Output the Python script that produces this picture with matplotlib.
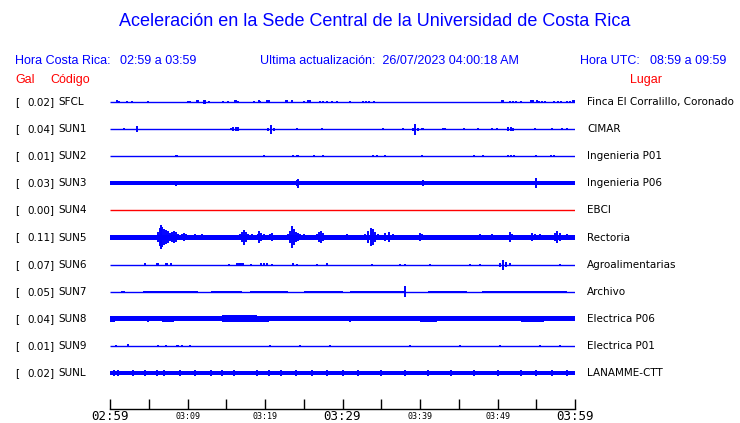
import matplotlib
matplotlib.use('Agg')
import matplotlib.pyplot as plt

# station info
gal = ['0.02', '0.04', '0.01', '0.03', '0.00', '0.11', '0.07', '0.05', '0.04', '0.01', '0.02']
codes = ['SFCL', 'SUN1', 'SUN2', 'SUN3', 'SUN4', 'SUN5', 'SUN6', 'SUN7', 'SUN8', 'SUN9', 'SUNL']
places = ['Finca El Corralillo, Coronado', 'CIMAR', 'Ingenieria P01', 'Ingenieria P06', 'EBCI',
          'Rectoria', 'Agroalimentarias', 'Archivo', 'Electrica P06', 'Electrica P01', 'LANAMME-CTT']

# half thickness of the trace background noise (px)
base = [0, 0, 0, 2.0, 0, 2.3, 0, 0, 2.3, 0, 2.1]

# time labels (minutes after 02:59)
tick_minutes = [0, 5, 10, 15, 20, 25, 30, 35, 40, 45, 50, 55, 60]
big_labels = {0: '02:59', 30: '03:29', 60: '03:59'}
small_labels = {10: '03:09', 20: '03:19', 40: '03:39', 50: '03:49'}

# noise bands (start min, end min, half amplitude px)
bands_sun7 = [(4.3, 11.3, 0.9), (13.0, 17.0, 0.8), (18.0, 23.0, 0.8), (25.0, 30.0, 0.8),
              (31.0, 38.0, 0.8), (41.0, 46.0, 0.8), (48.0, 59.0, 0.8)]
bands_sun8 = [(0.0, 0.7, 3.0), (6.7, 8.2, 2.8), (14.5, 19.0, 3.3), (19.0, 20.5, 2.9),
              (40.0, 42.0, 2.7), (53.0, 56.0, 2.7)]

# spikes (minute, half amplitude px)
spikes_sfcl = [(0.86, 1.5), (1.16, 1.2), (2.15, 1.2), (2.8, 0.8), (4.94, 0.8), (10.03, 0.8),
               (10.32, 1.2), (11.19, 1.5), (11.35, 1.5), (12.1, 2.0), (12.25, 2.2), (12.77, 1.3),
               (14.54, 1.0), (15.19, 0.8), (16.13, 1.5), (16.3, 1.5), (16.55, 1.3), (18.62, 0.8),
               (19.23, 1.5), (19.4, 1.3), (20.3, 1.5), (20.5, 1.5), (22.7, 1.5), (22.9, 1.5),
               (23.45, 1.5), (25.07, 1.3), (25.6, 1.5), (25.8, 1.5), (27.1, 1.2), (27.52, 1.3),
               (27.96, 1.2), (28.6, 1.2), (29.25, 1.2), (30.97, 0.8), (32.6, 1.0), (33.03, 1.2),
               (33.46, 1.2), (34.1, 0.8), (50.6, 1.5), (50.75, 1.5), (51.6, 1.2), (52.04, 1.0),
               (52.35, 1.2), (53.0, 1.2), (54.3, 1.5), (54.45, 1.5), (54.6, 1.5), (55.06, 1.5),
               (55.4, 1.3), (55.7, 1.2), (56.13, 1.2), (57.33, 1.0), (57.85, 1.2), (58.19, 1.2),
               (58.93, 1.2), (59.35, 1.2), (59.7, 1.5), (59.85, 1.5)]
spikes_sun1 = [(1.85, 0.7), (3.52, 2.7), (15.61, 1.0), (15.9, 2.0), (16.2, 2.0), (16.5, 2.0),
               (20.43, 1.5), (20.8, 4.5), (21.2, 1.5), (24.09, 1.3), (27.31, 1.3), (35.27, 0.7),
               (37.85, 0.7), (39.05, 1.5), (39.4, 5.5), (39.75, 1.5), (40.2, 1.2), (40.34, 1.2),
               (43.0, 0.7), (43.23, 0.7), (45.72, 1.0), (47.52, 0.8), (49.32, 0.7), (49.97, 0.7),
               (51.4, 1.7), (51.75, 2.0), (52.05, 1.5), (54.84, 0.8), (57.07, 0.8), (58.28, 0.8),
               (58.93, 0.8)]
spikes_sun2 = [(8.47, 0.8), (8.6, 1.0), (19.91, 0.8), (23.65, 0.8), (24.1, 1.2), (24.3, 1.2),
               (26.32, 1.2), (27.52, 0.8), (33.9, 0.8), (34.5, 0.8), (35.48, 0.8), (40.22, 0.8),
               (46.97, 0.8), (48.08, 0.8), (51.4, 1.0), (51.7, 1.0), (52.17, 0.8), (54.93, 0.8),
               (56.86, 0.8), (57.33, 0.8)]
spikes_sun3 = [(8.52, 2.5), (23.6, 1.8), (24.1, 3.0), (24.3, 4.5), (24.6, 2.0), (34.19, 2.2),
               (37.2, 1.8), (40.43, 2.8), (48.08, 2.0), (50.1, 1.8), (54.93, 5.0), (58.19, 2.0)]
spikes_sun4 = []
spikes_sun5 = [(0.86, 2.5), (1.07, 2.5), (5.55, 1.5), (6.19, 5), (6.39, 9), (6.58, 12), (6.77, 10),
               (6.97, 8), (7.23, 7), (7.48, 6), (7.74, 4), (8.0, 5), (8.26, 6), (8.52, 5), (8.77, 3),
               (9.29, 3), (9.55, 4), (9.81, 3), (10.97, 3), (11.83, 3), (15.91, 2), (16.77, 3),
               (17.03, 5), (17.33, 7.5), (17.55, 5), (17.81, 3), (18.32, 3), (18.71, 2.5), (19.14, 3),
               (19.27, 6), (19.48, 4), (19.87, 3), (20.65, 3), (20.9, 4), (21.61, 2.5), (22.36, 2.5),
               (23.0, 3), (23.29, 6), (23.52, 11), (23.74, 8), (24.0, 5), (24.26, 4), (24.52, 3),
               (25.03, 3), (26.71, 3), (26.97, 5), (27.23, 6), (27.48, 4), (28.13, 2), (30.54, 3),
               (32.9, 3), (33.29, 6), (33.68, 9), (33.94, 8), (34.19, 5), (34.58, 3), (35.48, 4),
               (36.0, 5), (36.52, 3), (40.0, 4), (40.26, 3), (43.23, 2), (47.74, 3), (49.29, 3),
               (51.61, 5), (51.87, 3), (54.45, 4), (54.84, 3), (55.48, 3), (57.42, 4), (57.68, 6),
               (58.06, 4), (58.97, 3), (59.61, 2)]
spikes_sun6 = [(4.52, 1.3), (6.05, 1.3), (6.2, 1.3), (7.2, 1.3), (7.33, 1.3), (7.83, 1.3),
               (15.39, 1.0), (16.39, 1.3), (16.6, 1.3), (16.77, 1.3), (16.95, 1.3), (17.16, 1.3),
               (18.15, 1.0), (19.48, 1.3), (19.81, 1.3), (20.32, 1.3), (20.86, 1.0), (23.65, 1.3),
               (24.17, 1.0), (26.75, 1.0), (27.96, 1.3), (33.81, 1.0), (37.42, 1.0), (38.06, 1.0),
               (41.29, 1.0), (46.45, 1.0), (47.74, 1.0), (50.32, 2.0), (50.71, 5.0), (51.1, 2.5),
               (51.61, 1.5), (58.06, 1.0)]
spikes_sun7 = [(1.6, 1.0), (1.75, 1.0), (38.06, 5.5)]
spikes_sun8 = [(4.85, 3.0), (31.0, 3.0), (40.5, 3.2), (42.1, 3.0)]
spikes_sun9 = [(0.77, 1.2), (2.37, 1.5), (6.23, 1.2), (7.23, 1.2), (8.6, 1.2), (8.8, 1.2),
               (9.25, 1.2), (10.32, 1.0), (20.65, 1.0), (24.5, 1.0), (28.4, 1.0), (38.7, 1.0),
               (45.16, 1.0), (50.32, 1.0), (55.48, 1.0), (58.06, 1.0)]
spikes_sunl = [(0.5, 3), (1.0, 3), (3.0, 3), (4.5, 2.8), (6.0, 3), (7.0, 2.8), (9.0, 3), (11.0, 2.8),
               (13.0, 3), (14.5, 2.8), (16.0, 3), (19.0, 3), (20.5, 2.8), (22.0, 3), (24.0, 3),
               (26.0, 2.8), (28.0, 3), (30.0, 2.8), (32.0, 3), (35.0, 2.8), (38.0, 3), (41.0, 2.8),
               (44.0, 3), (47.0, 2.8), (50.0, 3), (53.0, 3), (55.0, 2.8), (57.0, 3), (59.0, 2.8)]

spikes = [spikes_sfcl, spikes_sun1, spikes_sun2, spikes_sun3, spikes_sun4, spikes_sun5,
          spikes_sun6, spikes_sun7, spikes_sun8, spikes_sun9, spikes_sunl]
bands = {7: bands_sun7, 8: bands_sun8}

blue = '#0000ff'
red = '#ff0000'
W, H = 740, 423
px = 1 / 27.1  # trace spacing is 27.1 px

fig = plt.figure(figsize=(7.4, 4.23), dpi=100)
ax = fig.add_axes([110 / W, 1 - 409 / H, 465 / W, 319 / H])

for i in range(len(codes)):
    y = -i
    color = red if codes[i] == 'SUN4' else blue
    ax.plot([0, 60], [y, y], color=color, lw=1.0, solid_capstyle='butt')
    if base[i] > 0:
        ax.fill_between([0, 60], y - base[i] * px, y + base[i] * px, color=color, lw=0)
    for s, e, a in bands.get(i, []):
        ax.fill_between([s, e], y - a * px, y + a * px, color=color, lw=0)
    if spikes[i]:
        xs = [m for m, a in spikes[i]]
        lo = [y - a * px for m, a in spikes[i]]
        hi = [y + a * px for m, a in spikes[i]]
        ax.vlines(xs, lo, hi, color=color, lw=1.4)

ax.set_xlim(0, 60)
ax.set_ylim(-10 - 36 / 27.1, 12 / 27.1)
for s in ['top', 'left', 'right']:
    ax.spines[s].set_visible(False)
ax.spines['bottom'].set_linewidth(1.0)
ax.set_yticks([])
ax.set_xticks(tick_minutes)
ax.tick_params(axis='x', direction='in', length=7, width=1.0, labelbottom=False)
for m, lab in big_labels.items():
    ax.text(m, -0.004, lab, transform=ax.get_xaxis_transform(), ha='center', va='top',
            fontsize=9, family='DejaVu Sans Mono')
for m, lab in small_labels.items():
    ax.text(m, -0.008, lab, transform=ax.get_xaxis_transform(), ha='center', va='top',
            fontsize=6, family='DejaVu Sans Mono')

# left and right labels
for i in range(len(codes)):
    yy = 1 - (102 + i * 27.1) / H
    fig.text(15 / W, yy, '[', fontsize=7.5, va='center')
    fig.text(27.5 / W, yy, gal[i] + ']', fontsize=7.5, va='center')
    fig.text(58 / W, yy, codes[i], fontsize=7.5, va='center')
    fig.text(587 / W, yy, places[i], fontsize=7.5, va='center')

hf = 'Liberation Sans'
fig.text(375 / W, 1 - 22 / H, 'Aceleración en la Sede Central de la Universidad de Costa Rica',
         ha='center', va='center', color=blue, fontsize=13, family=hf)
fig.text(15 / W, 1 - 61 / H, 'Hora Costa Rica:', color=blue, fontsize=9, va='center', family=hf)
fig.text(120 / W, 1 - 61 / H, '02:59 a 03:59', color=blue, fontsize=9, va='center', family=hf)
fig.text(260 / W, 1 - 61 / H, 'Ultima actualización:  26/07/2023 04:00:18 AM', color=blue,
         fontsize=9, va='center', family=hf)
fig.text(580 / W, 1 - 61 / H, 'Hora UTC:', color=blue, fontsize=9, va='center', family=hf)
fig.text(650 / W, 1 - 61 / H, '08:59 a 09:59', color=blue, fontsize=9, va='center', family=hf)
fig.text(15 / W, 1 - 80 / H, 'Gal', color=red, fontsize=9, va='center', family=hf)
fig.text(50 / W, 1 - 80 / H, 'Código', color=red, fontsize=9, va='center', family=hf)
fig.text(630 / W, 1 - 80 / H, 'Lugar', color=red, fontsize=9, va='center', family=hf)

plt.savefig('out.png', dpi=100)
plt.close()
